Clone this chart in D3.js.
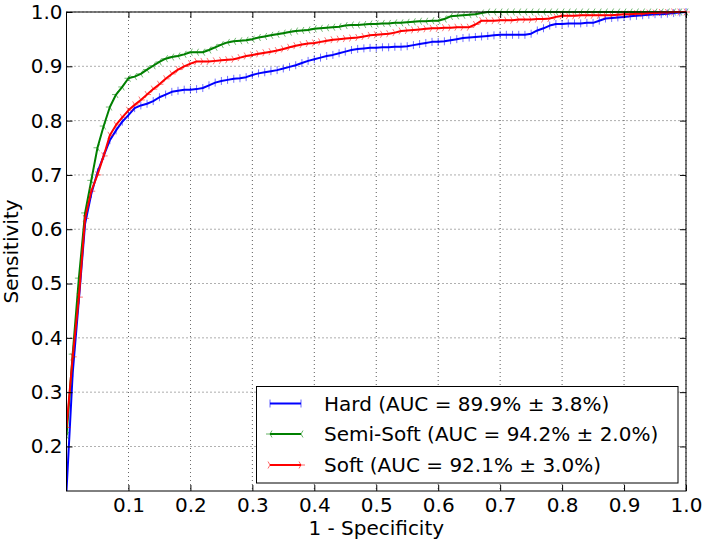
<!DOCTYPE html>
<html><head><meta charset="utf-8">
<script src="https://cdn.jsdelivr.net/npm/d3@7"></script>
<style>html,body{margin:0;padding:0;background:#fff;}svg{display:block;font-family:"DejaVu Sans",sans-serif;}</style>
</head><body>
<svg id="chart" width="707" height="543"></svg>
<script>
// x positions: 1 - specificity, step 0.01 from 0 to 1
const xValues = d3.range(101).map(i => i / 100);
const hardValues = [0.118,0.335,0.47,0.61,0.665,0.705,0.735,0.764,0.782,0.798,
0.810,0.823,0.828,0.831,0.836,0.843,0.848,0.853,0.855,0.857,
0.857,0.858,0.860,0.865,0.870,0.873,0.875,0.877,0.878,0.880,
0.884,0.887,0.889,0.891,0.893,0.896,0.899,0.902,0.906,0.910,
0.913,0.916,0.919,0.921,0.924,0.927,0.930,0.932,0.933,0.934,
0.934,0.935,0.935,0.936,0.936,0.937,0.939,0.941,0.943,0.945,
0.945,0.946,0.948,0.950,0.952,0.953,0.954,0.955,0.956,0.957,
0.958,0.958,0.958,0.958,0.958,0.960,0.966,0.970,0.975,0.978,
0.978,0.979,0.979,0.979,0.980,0.980,0.984,0.988,0.989,0.990,
0.991,0.992,0.993,0.994,0.995,0.996,0.996,0.997,0.998,0.999,1.0];
const semiSoftValues = [0.22,0.37,0.51,0.63,0.69,0.75,0.79,0.825,0.848,0.862,
0.878,0.881,0.886,0.894,0.901,0.908,0.914,0.917,0.919,0.922,
0.926,0.926,0.926,0.930,0.935,0.940,0.944,0.946,0.947,0.948,
0.950,0.953,0.955,0.957,0.959,0.961,0.963,0.965,0.966,0.967,
0.969,0.970,0.971,0.972,0.973,0.975,0.976,0.976,0.977,0.978,
0.978,0.979,0.979,0.980,0.980,0.981,0.982,0.983,0.983,0.984,
0.984,0.987,0.992,0.993,0.994,0.995,0.996,0.998,1.0,1.0,
1.0,1.0,1.0,1.0,1.0,1.0,1.0,1.0,1.0,1.0,
1.0,1.0,1.0,1.0,1.0,1.0,1.0,1.0,1.0,1.0,
1.0,1.0,1.0,1.0,1.0,1.0,1.0,1.0,1.0,1.0,1.0];
const softValues = [0.235,0.365,0.475,0.62,0.67,0.70,0.735,0.773,0.792,0.806,
0.819,0.829,0.838,0.848,0.858,0.867,0.877,0.886,0.894,0.900,
0.905,0.909,0.909,0.909,0.910,0.911,0.912,0.913,0.916,0.919,
0.921,0.923,0.925,0.927,0.929,0.932,0.935,0.938,0.940,0.942,
0.943,0.945,0.947,0.949,0.950,0.951,0.952,0.953,0.955,0.957,
0.958,0.959,0.960,0.962,0.965,0.966,0.967,0.968,0.969,0.970,
0.970,0.971,0.971,0.972,0.972,0.972,0.977,0.984,0.984,0.984,
0.985,0.985,0.985,0.986,0.986,0.986,0.987,0.987,0.988,0.991,
0.993,0.993,0.993,0.994,0.994,0.994,0.994,0.994,0.994,0.995,
0.996,0.996,0.997,0.997,0.998,0.998,0.999,0.999,1.0,1.0,1.0];

const seriesNames = ["Hard (AUC = 89.9% \u00b1 3.8%)", "Semi-Soft (AUC = 94.2% \u00b1 2.0%)", "Soft (AUC = 92.1% \u00b1 3.0%)"];
const seriesColors = ["#0000ff", "#008000", "#ff0000"];
const seriesMarkers = ["vline", "triRight", "triLeft"];
const xTicks = [0.1,0.2,0.3,0.4,0.5,0.6,0.7,0.8,0.9,1.0];
const yTicks = [0.2,0.3,0.4,0.5,0.6,0.7,0.8,0.9,1.0];
const xLabel = "1 - Specificity";
const yLabel = "Sensitivity";

const allSeries = [hardValues, semiSoftValues, softValues];
const FS = 20;

const svg = d3.select("#chart");
const L = 66.5, R = 686, T = 12, B = 491;
const x = d3.scaleLinear().domain([0, 1]).range([L, R]);
const y = d3.scaleLinear().domain([0.118, 1.0]).range([B, T]);

// grid
const grid = svg.append("g");
xTicks.forEach(t => grid.append("line").attr("x1", x(t)).attr("x2", x(t)).attr("y1", T).attr("y2", B)
  .attr("stroke", "#000").attr("stroke-width", 0.8).attr("stroke-dasharray", "1,3").attr("opacity", 0.8));
yTicks.forEach(t => grid.append("line").attr("x1", L).attr("x2", R).attr("y1", y(t)).attr("y2", y(t))
  .attr("stroke", "#000").attr("stroke-width", 0.8).attr("stroke-dasharray", "1,3").attr("opacity", 0.8));

function markerPath(type, s) {
  if (type === "vline") return `M0,${-s}L0,${s}`;
  const a = s;
  if (type === "triRight") return `M0,0L${-a},0M0,0L${a*0.5},${-a*0.87}M0,0L${a*0.5},${a*0.87}`;
  return `M0,0L${a},0M0,0L${-a*0.5},${-a*0.87}M0,0L${-a*0.5},${a*0.87}`;
}

const plot = svg.append("g");
svg.append("clipPath").attr("id", "clip").append("rect").attr("x", L).attr("y", T - 4).attr("width", R - L + 4).attr("height", B - T + 4);
plot.attr("clip-path", "url(#clip)");
const line = d3.line().x((d, i) => x(xValues[i])).y(d => y(d));

allSeries.forEach((vals, k) => {
  const g = plot.append("g");
  g.append("path").datum(vals).attr("d", line).attr("fill", "none")
    .attr("stroke", seriesColors[k]).attr("stroke-width", 2).attr("stroke-linejoin", "round");
  g.selectAll("path.m").data(vals).enter().append("path").attr("class", "m")
    .attr("transform", (d, i) => `translate(${x(xValues[i])},${y(d)})`)
    .attr("d", markerPath(seriesMarkers[k], 4))
    .attr("stroke", seriesColors[k]).attr("stroke-width", 1).attr("fill", "none").attr("opacity", 0.55);
});

// frame
svg.append("rect").attr("x", L).attr("y", T).attr("width", R - L).attr("height", B - T)
  .attr("fill", "none").attr("stroke", "#000").attr("stroke-width", 1);

// axes with inward ticks
const xAxisB = d3.axisBottom(x).tickValues(xTicks).tickSize(-6).tickPadding(7).tickFormat(d3.format(".1f"));
const xAxisT = d3.axisTop(x).tickValues(xTicks).tickSize(-6).tickFormat("");
const yAxisL = d3.axisLeft(y).tickValues(yTicks).tickSize(-6).tickPadding(4).tickFormat(d3.format(".1f"));
const yAxisR = d3.axisRight(y).tickValues(yTicks).tickSize(-6).tickFormat("");
function style(g) {
  g.select(".domain").remove();
  g.selectAll("text").attr("font-family", "DejaVu Sans").attr("font-size", FS).attr("fill", "#000");
  g.selectAll("line").attr("stroke", "#000");
}
svg.append("g").attr("transform", `translate(0,${B})`).call(xAxisB).call(style);
svg.append("g").attr("transform", `translate(0,${T})`).call(xAxisT).call(style);
svg.append("g").attr("transform", `translate(${L},0)`).call(yAxisL).call(style);
svg.append("g").attr("transform", `translate(${R},0)`).call(yAxisR).call(style);

svg.append("text").attr("x", (L + R) / 2).attr("y", 535).attr("text-anchor", "middle")
  .attr("font-size", FS).text(xLabel);
svg.append("text").attr("transform", `translate(18,${(T + B) / 2}) rotate(-90)`).attr("text-anchor", "middle")
  .attr("font-size", FS).text(yLabel);

// legend
const lg = svg.append("g");
lg.append("rect").attr("x", 256.5).attr("y", 386.5).attr("width", 421.5).attr("height", 96.5)
  .attr("fill", "#fff").attr("stroke", "#000").attr("stroke-width", 1);
const rowY = [403.5, 434, 465];
seriesNames.forEach((n, k) => {
  lg.append("line").attr("x1", 270).attr("x2", 301).attr("y1", rowY[k]).attr("y2", rowY[k])
    .attr("stroke", seriesColors[k]).attr("stroke-width", 2);
  [270, 301].forEach(px => lg.append("path").attr("transform", `translate(${px},${rowY[k]})`)
    .attr("d", markerPath(seriesMarkers[k], 4)).attr("stroke", seriesColors[k]).attr("stroke-width", 1)
    .attr("fill", "none").attr("opacity", 0.6));
  lg.append("text").attr("x", 324).attr("y", rowY[k]).attr("dy", "0.35em").attr("font-size", FS).text(n);
});
</script>
</body></html>
